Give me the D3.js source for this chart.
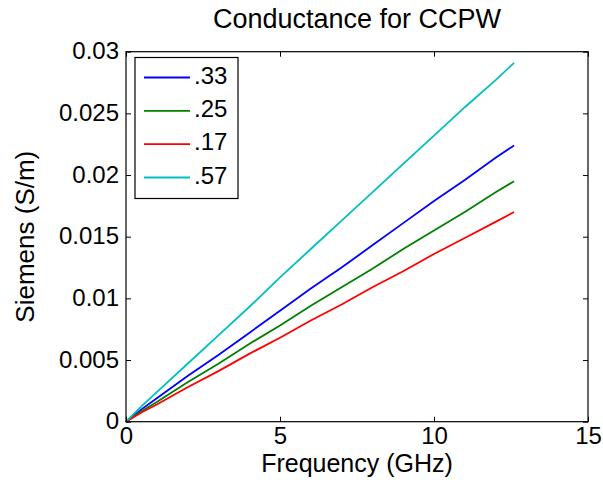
<!DOCTYPE html>
<html>
<head>
<meta charset="utf-8">
<title>Conductance for CCPW</title>
<script src="https://d3js.org/d3.v7.min.js"></script>
<style>
  body { margin: 0; background: #fff; }
  text { font-family: "Liberation Sans", Arial, sans-serif; fill: #000; }
</style>
</head>
<body>
<div id="chart"></div>
<script>
// frequency samples (GHz)
const freq = [0, 0.5, 1, 2, 3, 4, 5, 6, 7, 8, 9, 10, 11, 12, 12.6];

// conductance values (S/m) per ratio
const g33 = [0, 0.0010, 0.0019, 0.0037, 0.0054, 0.0072, 0.0090, 0.0108, 0.0125, 0.0143, 0.0161, 0.0179, 0.0196, 0.0214, 0.0224];
const g25 = [0, 0.00085, 0.0016, 0.0032, 0.0047, 0.0063, 0.0078, 0.0094, 0.0109, 0.0124, 0.0140, 0.0155, 0.0170, 0.0186, 0.0195];
const g17 = [0, 0.00075, 0.0014, 0.0028, 0.0041, 0.0055, 0.0068, 0.0082, 0.0095, 0.0109, 0.0122, 0.0136, 0.0149, 0.0162, 0.0170];
const g57 = [0, 0.00125, 0.0024, 0.0047, 0.0070, 0.0093, 0.0117, 0.0140, 0.0163, 0.0186, 0.0209, 0.0232, 0.0255, 0.0277, 0.0291];

const seriesNames = [".33", ".25", ".17", ".57"];
const seriesColors = ["#0000ff", "#008000", "#ff0000", "#00bfbf"];
const seriesValues = [g33, g25, g17, g57];

const xTicks = [0, 5, 10, 15];
const yTicks = [0, 0.005, 0.01, 0.015, 0.02, 0.025, 0.03];
const yTickLabels = ["0", "0.005", "0.01", "0.015", "0.02", "0.025", "0.03"];

let width = 603;
let height = 483;
let plotLeft = 126, plotRight = 588, plotTop = 51.7, plotBottom = 421.7;

let svg = d3.select("#chart")
    .append("svg")
    .attr("width", width)
    .attr("height", height);

let xScale = d3.scaleLinear().domain([0, 15]).range([plotLeft, plotRight]);
let yScale = d3.scaleLinear().domain([0, 0.03]).range([plotBottom, plotTop]);

// lines
let line = d3.line()
    .x(function (d, i) { return xScale(freq[i]); })
    .y(function (d) { return yScale(d); });

seriesValues.forEach(function (vals, k) {
    svg.append("path")
        .datum(vals)
        .attr("d", line)
        .attr("fill", "none")
        .attr("stroke", seriesColors[k])
        .attr("stroke-width", 1.8);
});

// axes (ticks pointing inward, mirrored on top/right)
let xAxis = d3.axisBottom(xScale).tickValues(xTicks).tickSize(-5).tickPadding(5)
    .tickFormat(d3.format("d"));
let yAxis = d3.axisLeft(yScale).tickValues(yTicks).tickSize(-5).tickPadding(7)
    .tickFormat(function (d, i) { return yTickLabels[i]; });

let gx = svg.append("g")
    .attr("transform", "translate(0," + plotBottom + ")")
    .call(xAxis);
let gy = svg.append("g")
    .attr("transform", "translate(" + plotLeft + ",0)")
    .call(yAxis);

svg.append("g")
    .attr("transform", "translate(0," + plotTop + ")")
    .call(d3.axisTop(xScale).tickValues(xTicks).tickSize(-5).tickFormat(""));
svg.append("g")
    .attr("transform", "translate(" + plotRight + ",0)")
    .call(d3.axisRight(yScale).tickValues(yTicks).tickSize(-5).tickFormat(""));

svg.selectAll(".domain").remove();
svg.selectAll(".tick line").attr("stroke", "#000").attr("stroke-width", 1);
[gx, gy].forEach(function (g) {
    g.selectAll("text")
        .style("font-family", "'Liberation Sans', Arial, sans-serif")
        .style("font-size", "24px")
        .attr("fill", "#000");
});
gx.selectAll("text").attr("dy", "0.71em");
gy.selectAll("text").attr("dy", "0.3em");

// box
svg.append("rect")
    .attr("x", plotLeft)
    .attr("y", plotTop)
    .attr("width", plotRight - plotLeft)
    .attr("height", plotBottom - plotTop)
    .attr("fill", "none")
    .attr("stroke", "#000")
    .attr("stroke-width", 1.2);

// title and labels
svg.append("text")
    .attr("x", (plotLeft + plotRight) / 2)
    .attr("y", 28)
    .attr("font-size", 27)
    .style("text-anchor", "middle")
    .text("Conductance for CCPW");

svg.append("text")
    .attr("x", (plotLeft + plotRight) / 2)
    .attr("y", 472)
    .attr("font-size", 25)
    .style("text-anchor", "middle")
    .text("Frequency (GHz)");

svg.append("text")
    .attr("transform", "rotate(-90)")
    .attr("x", -(plotTop + plotBottom) / 2)
    .attr("y", 34)
    .attr("font-size", 26)
    .style("text-anchor", "middle")
    .text("Siemens (S/m)");

// legend
let legend = svg.append("g");
legend.append("rect")
    .attr("x", 135)
    .attr("y", 57.5)
    .attr("width", 103)
    .attr("height", 141)
    .attr("fill", "#fff")
    .attr("stroke", "#000")
    .attr("stroke-width", 1.2);

let legendY = d3.scalePoint().domain(seriesNames).range([77.5, 177.5]);
seriesNames.forEach(function (name, k) {
    legend.append("line")
        .attr("x1", 144)
        .attr("x2", 190)
        .attr("y1", legendY(name))
        .attr("y2", legendY(name))
        .attr("stroke", seriesColors[k])
        .attr("stroke-width", 1.8);
    legend.append("text")
        .attr("x", 194)
        .attr("y", legendY(name) + 6)
        .attr("font-size", 24)
        .text(name);
});
</script>
</body>
</html>
